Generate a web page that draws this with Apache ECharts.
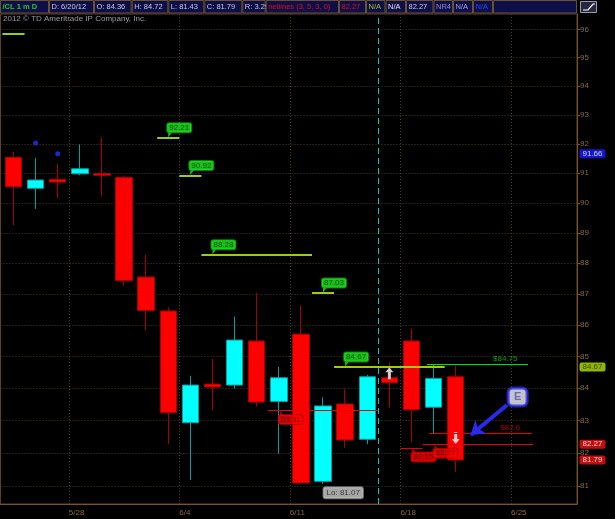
<!DOCTYPE html>
<html><head><meta charset="utf-8">
<script src="https://cdn.jsdelivr.net/npm/echarts@6/dist/echarts.min.js"></script>
<style>html,body{margin:0;padding:0;background:#000}#c{width:615px;height:519px}</style>
</head><body><div id="c"></div>
<script>
// ---------- data ----------
const dates  = ['5/23','5/24','5/25','5/28','5/29','5/30','5/31','6/1','6/4','6/5','6/6','6/7','6/8','6/11','6/12','6/13','6/14','6/15','6/18','6/19','6/20'];
const opens  = [91.54,90.49,90.79,90.98,90.99,90.86,87.55,86.45,82.93,84.13,84.10,85.49,83.59,85.71,81.14,83.51,82.42,84.33,85.49,83.41,84.36];
const closes = [90.54,90.77,90.70,91.15,90.93,87.43,86.47,83.24,84.10,84.04,85.52,83.57,84.33,81.09,83.45,82.40,84.36,84.17,83.33,84.31,81.79];
const lows   = [89.26,89.80,90.17,90.93,90.23,87.27,85.84,82.28,81.18,83.31,83.99,83.43,81.98,81.09,81.07,82.15,82.27,83.40,82.33,82.60,81.43];
const highs  = [91.72,91.52,91.31,91.98,92.21,90.92,88.28,86.57,84.39,84.92,86.27,87.03,84.67,86.63,83.72,83.99,84.42,84.80,85.88,84.76,84.72];

const weekTickPos    = [2.5, 7.5, 12.5, 17.5, 22.5];
const weekTickLabels = ['5/28','6/4','6/11','6/18','6/25'];
const priceTicks     = [81,82,83,84,85,86,87,88,89,90,91,92,93,94,95,96];
const priceRange     = [80.459, 96.555];
const barRange       = [-0.5874, 25.486];

const sarDots = [[1, 92.03], [2, 91.66]];
// netlines: [fromBar, toBar, price, label]
const highLines = [[-0.5, 0.5, 95.84, ''], [6.5, 7.5, 92.21, '92.21'], [7.5, 8.5, 90.92, '90.92'], [8.5, 13.5, 88.28, '88.28'], [13.5, 14.5, 87.03, '87.03'], [14.5, 19.5, 84.67, '84.67']];
const lowLines  = [[11.5, 16.5, 83.31, '83.31'], [17.5, 18.5, 82.15, '82.15'], [18.5, 23.5, 82.27, '82.27']];
// drawn price levels: [fromBar, toBar, price, text]
const drawnGreen = [[18.7, 23.27, 84.75, '$84.75']];
const drawnRed   = [[18.8, 23.44, 82.6, '$82.6']];
const lowMark    = [14, 81.07, 'Lo: 81.07'];
const upArrows   = [[17, 84.47]];
const downArrows = [[20, 82.46]];
const calloutBox = [22.8, 83.73, 'E'];
const calloutArrow = [[22.32, 83.48], [20.68, 82.55]];
const cursorBar  = 16.5;
const lastValues = [[91.66, '#1a1aff', '#ffffff'], [84.67, '#b4e400', '#1c2a00'], [82.27, '#f01010', '#ffffff'], [81.79, '#f01010', '#ffffff']];

const headerBounds = [0, 49, 94, 131.7, 168.3, 204.3, 242.3, 265.7, 339, 366, 385.5, 406, 433.5, 453, 473, 493, 577];
const headerTexts  = ['/CL 1 m D','D: 6/20/12','O: 84.36','H: 84.72','L: 81.43','C: 81.79','R: 3.29','netlines (3, 5, 3, 0)','82.27','N/A','N/A','82.27','NR4','N/A','N/A',''];
const headerColors = ['#22cc22','#c8c8dc','#c8c8dc','#c8c8dc','#c8c8dc','#c8c8dc','#c8c8dc','#e01010','#e01010','#a8c010','#e0e0e0','#c8c8d0','#9090d8','#a0a0e8','#2848ff',''];

// ---------- build ----------
const L = Math.log;
const FONT = 'Liberation Sans';
const brown = '#7a5428';
const gridCol = '#4e3d22';

const candleData = dates.map((d, i) => [i, L(opens[i]), L(closes[i]), L(lows[i]), L(highs[i])]);

function seg(list, color, width) {
  return list.map(r => [
    {coord: [r[0], L(r[2])], lineStyle: {color: color, width: width, type: 'solid'}},
    {coord: [r[1], L(r[2])]}
  ]);
}

const header = [];
for (let k = 0; k < headerTexts.length; k++) {
  const x0 = headerBounds[k], x1 = headerBounds[k + 1];
  header.push({type: 'rect', shape: {x: x0 + 0.5, y: 0.5, width: x1 - x0 - 1, height: 12.5},
    style: {fill: '#0e0e4a', stroke: '#6a5230', lineWidth: 1}, silent: true});
  if (headerTexts[k]) header.push({type: 'text', x: x0 + 2.5, y: 7,
    style: {text: headerTexts[k], fill: headerColors[k], font: (k === 0 ? 'bold ' : '') + '7.5px "' + FONT + '"', textVerticalAlign: 'middle'}, silent: true});
}
header.push({type: 'rect', shape: {x: 580.5, y: 1.5, width: 16, height: 11}, style: {fill: '#26263e', stroke: '#9a9aaa', lineWidth: 1}, silent: true});
header.push({type: 'polyline', shape: {points: [[583, 10], [588, 10], [593, 4], [595, 4]]}, style: {stroke: '#ffffff', lineWidth: 1.2, fill: null}, silent: true});
header.push({type: 'text', x: 3, y: 19, style: {text: '2012 \u00a9 TD Ameritrade IP Company, Inc.', fill: '#9a9aa0', font: '8px "' + FONT + '"', textVerticalAlign: 'middle'}, silent: true});

const boxLabel = (bg, fg, border) => ({
  show: true, fontFamily: FONT, fontSize: 8, lineHeight: 9, color: fg, backgroundColor: bg,
  borderColor: border, borderWidth: 1, borderRadius: 2, padding: [0, 2]
});

const option = {
  backgroundColor: '#000000',
  animation: false,
  graphic: header,
  grid: {left: 0.5, right: 38, top: 14, bottom: 15, containLabel: false, outerBoundsMode: 'none',
    show: true, borderColor: '#5e4220', borderWidth: 1, backgroundColor: 'transparent'},
  xAxis: {
    type: 'value', min: barRange[0], max: barRange[1],
    axisLine: {show: true, onZero: false, lineStyle: {color: brown}},
    axisTick: {show: false, customValues: weekTickPos},
    axisLabel: {customValues: weekTickPos, align: 'left', margin: 5, color: '#8a6a3c', fontFamily: FONT, fontSize: 8,
      formatter: v => { const k = weekTickPos.findIndex(p => Math.abs(p - v) < 1e-6); return k >= 0 ? weekTickLabels[k] : ''; }},
    splitLine: {show: true, lineStyle: {color: gridCol, type: [1, 2], width: 1}}
  },
  yAxis: {
    type: 'value', position: 'right', min: L(priceRange[0]), max: L(priceRange[1]), scale: true,
    axisLine: {show: true, onZero: false, lineStyle: {color: brown}},
    axisTick: {show: true, length: 3, customValues: priceTicks.map(L), lineStyle: {color: brown}},
    axisLabel: {customValues: priceTicks.map(L), margin: 3, color: '#8a6a3c', fontFamily: FONT, fontSize: 8,
      formatter: v => String(Math.round(Math.exp(v)))},
    splitLine: {show: true, lineStyle: {color: gridCol, type: [1, 2], width: 1}}
  },
  series: [
    {
      type: 'candlestick', name: 'CL', data: candleData, encode: {x: 0, y: [1, 2, 3, 4]},
      barWidth: 17,
      itemStyle: {color: '#00ffff', color0: '#ff0000', borderColor: '#00a0a0', borderColor0: '#a80000', borderWidth: 1},
      markLine: {silent: true, symbol: 'none', label: {show: false},
        data: [{xAxis: cursorBar, lineStyle: {color: '#00c8c8', type: [6, 4], width: 1}}]}
    },
    {
      type: 'scatter', name: 'sar', data: sarDots.map(p => [p[0], L(p[1])]), symbolSize: 5,
      itemStyle: {color: '#2233ff'}, silent: true
    },
    {
      type: 'scatter', name: 'highLines', symbolSize: 1, itemStyle: {color: 'rgba(0,0,0,0)'}, silent: true,
      data: highLines.filter(r => r[3]).map(r => [r[0], L(r[2]), r[3]]),
      label: Object.assign(boxLabel('#22ee22', '#0a3a0a', '#119911'), {position: [10.5, -14], formatter: p => p.value[2]}),
      markLine: {silent: true, symbol: 'none', label: {show: false}, data: seg(highLines, '#9ccc14', 2)}
    },
    {
      type: 'scatter', name: 'highPointers', silent: true,
      data: highLines.filter(r => r[3]).map(r => [r[0], L(r[2])]),
      symbol: 'path://M0,0 L4,0 L0,5 Z', symbolSize: [4, 5], symbolOffset: [13, -3],
      itemStyle: {color: '#22ee22'}
    },
    {
      type: 'scatter', name: 'lowLines', symbolSize: 1, itemStyle: {color: 'rgba(0,0,0,0)'}, silent: true,
      data: lowLines.map(r => [r[0], L(r[2]), r[3]]),
      label: Object.assign(boxLabel('#ff0000', '#5a0000', '#b00000'), {position: [11.5, 5], formatter: p => p.value[2]}),
      markLine: {silent: true, symbol: 'none', label: {show: false}, data: seg(lowLines, '#e80000', 1)}
    },
    {
      type: 'scatter', name: 'lowPointers', silent: true,
      data: lowLines.map(r => [r[0], L(r[2])]),
      symbol: 'path://M0,0 L4,5 L0,5 Z', symbolSize: [4, 5], symbolOffset: [14, 3],
      itemStyle: {color: '#ff0000'}
    },
    {
      type: 'scatter', name: 'drawnGreen', symbolSize: 1, itemStyle: {color: 'rgba(0,0,0,0)'}, silent: true,
      data: drawnGreen.map(r => [r[1], L(r[2]), r[3]]),
      label: {show: true, position: [-10, -9], align: 'right', color: '#00cc00', fontFamily: FONT, fontSize: 8, formatter: p => p.value[2]},
      markLine: {silent: true, symbol: 'none', label: {show: false}, data: seg(drawnGreen, '#00e000', 1)}
    },
    {
      type: 'scatter', name: 'drawnRed', symbolSize: 1, itemStyle: {color: 'rgba(0,0,0,0)'}, silent: true,
      data: drawnRed.map(r => [r[1], L(r[2]), r[3]]),
      label: {show: true, position: [-11, -9], align: 'right', color: '#d00000', fontFamily: FONT, fontSize: 8, formatter: p => p.value[2]},
      markLine: {silent: true, symbol: 'none', label: {show: false}, data: seg(drawnRed, '#e80000', 1)}
    },
    {
      type: 'scatter', name: 'lowMark', symbolSize: 1, itemStyle: {color: 'rgba(0,0,0,0)'}, silent: true,
      data: [[lowMark[0], L(lowMark[1]), lowMark[2]]],
      label: Object.assign(boxLabel('#cfcfcf', '#1a1a1a', '#8a8a8a'), {position: [1, 4], padding: [1, 3], formatter: p => p.value[2]})
    },
    {
      type: 'scatter', name: 'upSignal', silent: true,
      data: upArrows.map(p => [p[0], L(p[1])]),
      symbol: 'path://M4,0 L8,5 L5.5,5 L5.5,12 L2.5,12 L2.5,5 L0,5 Z', symbolSize: [8, 12],
      itemStyle: {color: '#ffffff'}
    },
    {
      type: 'scatter', name: 'downSignal', silent: true,
      data: downArrows.map(p => [p[0], L(p[1])]),
      symbol: 'path://M2.5,0 L5.5,0 L5.5,7 L8,7 L4,12 L0,7 L2.5,7 Z', symbolSize: [8, 12],
      itemStyle: {color: '#ffffff'}
    },
    {
      type: 'scatter', name: 'callout', silent: true, z: 5,
      data: [[calloutBox[0], L(calloutBox[1]), calloutBox[2]]],
      symbol: 'roundRect', symbolSize: [19, 18],
      itemStyle: {color: '#f4f4ff', borderColor: '#2a2ae8', borderWidth: 3},
      label: {show: true, position: 'inside', formatter: p => p.value[2], color: '#5a52b0', fontFamily: FONT, fontSize: 11, fontWeight: 'bold'},
      markLine: {silent: true, symbol: ['none', 'arrow'], symbolSize: 13, label: {show: false},
        data: [[{coord: [calloutArrow[0][0], L(calloutArrow[0][1])], lineStyle: {color: '#2a2ae8', width: 4, type: 'solid'}},
                {coord: [calloutArrow[1][0], L(calloutArrow[1][1])]}]]}
    },
    {
      type: 'scatter', name: 'lastValues', silent: true, clip: false, z: 6,
      symbolSize: 1, itemStyle: {color: 'rgba(0,0,0,0)'},
      data: lastValues.map(r => ({
        value: [barRange[1], L(r[0]), r[0].toFixed(2)],
        label: {backgroundColor: r[1], color: r[2]}
      })),
      label: {show: true, position: 'right', distance: 2, formatter: p => p.value[2],
        fontFamily: FONT, fontSize: 8, lineHeight: 9, padding: [0, 3], borderRadius: 2}
    }
  ]
};

const chart = echarts.init(document.getElementById('c'), null, {renderer: 'canvas'});
chart.setOption(option);
</script>
</body></html>
